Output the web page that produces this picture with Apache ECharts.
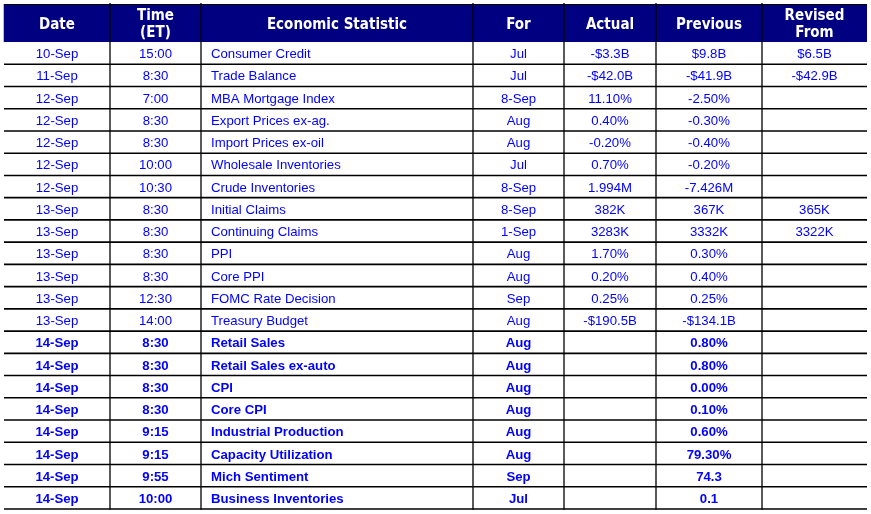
<!DOCTYPE html>
<html>
<head>
<meta charset="utf-8">
<script src="https://cdn.jsdelivr.net/npm/echarts@6/dist/echarts.min.js"></script>
<style>html,body{margin:0;padding:0;background:#fff;}#c{width:871px;height:514px;}</style>
</head>
<body>
<div id="c"></div>
<script>
// ---- data ----
const headers = ['Date', 'Time\n(ET)', 'Economic Statistic', 'For', 'Actual', 'Previous', 'Revised\nFrom'];
const dates = ['10-Sep','11-Sep','12-Sep','12-Sep','12-Sep','12-Sep','12-Sep','13-Sep','13-Sep','13-Sep','13-Sep','13-Sep','13-Sep','14-Sep','14-Sep','14-Sep','14-Sep','14-Sep','14-Sep','14-Sep','14-Sep'];
const times = ['15:00','8:30','7:00','8:30','8:30','10:00','10:30','8:30','8:30','8:30','8:30','12:30','14:00','8:30','8:30','8:30','8:30','9:15','9:15','9:55','10:00'];
const stats = ['Consumer Credit','Trade Balance','MBA Mortgage Index','Export Prices ex-ag.','Import Prices ex-oil','Wholesale Inventories','Crude Inventories','Initial Claims','Continuing Claims','PPI','Core PPI','FOMC Rate Decision','Treasury Budget','Retail Sales','Retail Sales ex-auto','CPI','Core CPI','Industrial Production','Capacity Utilization','Mich Sentiment','Business Inventories'];
const periods = ['Jul','Jul','8-Sep','Aug','Aug','Jul','8-Sep','8-Sep','1-Sep','Aug','Aug','Sep','Aug','Aug','Aug','Aug','Aug','Aug','Aug','Sep','Jul'];
const actuals = ['-$3.3B','-$42.0B','11.10%','0.40%','-0.20%','0.70%','1.994M','382K','3283K','1.70%','0.20%','0.25%','-$190.5B','','','','','','','',''];
const previous = ['$9.8B','-$41.9B','-2.50%','-0.30%','-0.40%','-0.20%','-7.426M','367K','3332K','0.30%','0.40%','0.25%','-$134.1B','0.80%','0.80%','0.00%','0.10%','0.60%','79.30%','74.3','0.1'];
const revised = ['$6.5B','-$42.9B','','','','','','365K','3322K','','','','','','','','','','','',''];

// ---- layout / style ----
const columns = [dates, times, stats, periods, actuals, previous, revised];
const colEdges = [4, 110, 201, 473, 564, 656, 762, 867];
const colAlign = ['center','center','left','center','center','center','center'];
const nRows = dates.length;
const TEXT_COLOR = '#0000ff';
const NAVY = '#000080';

const cells = [];
columns.forEach((col, c) => col.forEach((t, r) => {
  cells.push({ value: [c, r], text: t, bold: actuals[r] === '' });
}));
const headerCells = headers.map((h, c) => ({ value: [c, 0], text: h }));

function cellRender(params, api) {
  const cell = cells[params.dataIndex];
  const c = cell.value[0], r = cell.value[1];
  const p0 = api.coord([colEdges[c], r]);
  const p1 = api.coord([colEdges[c + 1], r + 1]);
  const left = colAlign[c] === 'left';
  return {
    type: 'text',
    style: {
      x: left ? p0[0] + 10 : (p0[0] + p1[0]) / 2,
      y: (p0[1] + p1[1]) / 2 + 1.5,
      text: cell.text,
      fill: TEXT_COLOR,
      font: (cell.bold ? 'bold ' : '') + '13.2px "Liberation Sans", Arial, sans-serif',
      align: left ? 'left' : 'center',
      verticalAlign: 'middle'
    }
  };
}

function bodyLines(params, api) {
  if (params.dataIndex !== 0) return;
  const children = [];
  for (let r = 1; r <= nRows; r++) {
    const a = api.coord([colEdges[0], r]);
    const b = api.coord([colEdges[colEdges.length - 1], r]);
    children.push({ type: 'line', shape: { x1: a[0], y1: a[1], x2: b[0], y2: b[1] }, style: { stroke: '#000', lineWidth: 1.6 } });
  }
  for (let c = 1; c < colEdges.length - 1; c++) {
    const a = api.coord([colEdges[c], 0]);
    const b = api.coord([colEdges[c], nRows]);
    children.push({ type: 'line', shape: { x1: a[0], y1: a[1], x2: b[0], y2: b[1] + 0.8 }, style: { stroke: '#000', lineWidth: 1.3 } });
  }
  return { type: 'group', children };
}

function headerRender(params, api) {
  const h = headerCells[params.dataIndex];
  const c = h.value[0];
  const p0 = api.coord([colEdges[c], 0]);
  const p1 = api.coord([colEdges[c + 1], 1]);
  const children = [
    { type: 'rect', shape: { x: p0[0], y: p0[1], width: p1[0] - p0[0], height: p1[1] - p0[1] }, style: { fill: NAVY } },
    { type: 'text', style: {
      x: (p0[0] + p1[0]) / 2, y: (p0[1] + p1[1]) / 2 + 1.8, text: h.text, fill: '#fff',
      font: 'bold 15px "DejaVu Sans Condensed", "DejaVu Sans", Verdana, sans-serif', lineHeight: 17,
      align: 'center', verticalAlign: 'middle' } },
    { type: 'line', shape: { x1: p0[0], y1: p0[1] + 0.5, x2: p1[0], y2: p0[1] + 0.5 }, style: { stroke: '#000', lineWidth: 1 } }
  ];
  if (c > 0) children.push({ type: 'line', shape: { x1: p0[0], y1: p0[1] - 1, x2: p0[0], y2: p1[1] }, style: { stroke: '#000', lineWidth: 1.3 } });
  else children.push({ type: 'line', shape: { x1: p0[0] - 0.5, y1: p0[1], x2: p0[0] - 0.5, y2: p1[1] }, style: { stroke: '#b8b8d8', lineWidth: 1 } });
  return { type: 'group', children };
}

const chart = echarts.init(document.getElementById('c'), null, { renderer: 'canvas' });
chart.setOption({
  animation: false,
  backgroundColor: '#fff',
  grid: [
    { left: 4, right: 4, top: 4, height: 38 },
    { left: 4, right: 4, top: 42, height: 467 }
  ],
  xAxis: [
    { gridIndex: 0, type: 'value', min: colEdges[0], max: colEdges[colEdges.length - 1], show: false },
    { gridIndex: 1, type: 'value', min: colEdges[0], max: colEdges[colEdges.length - 1], show: false }
  ],
  yAxis: [
    { gridIndex: 0, type: 'value', min: 0, max: 1, inverse: true, show: false },
    { gridIndex: 1, type: 'value', min: 0, max: nRows, inverse: true, show: false }
  ],
  series: [
    { type: 'custom', xAxisIndex: 0, yAxisIndex: 0, data: headerCells.map(h => h.value), renderItem: headerRender, silent: true },
    { type: 'custom', xAxisIndex: 1, yAxisIndex: 1, data: [[0, 0]], renderItem: bodyLines, silent: true },
    { type: 'custom', xAxisIndex: 1, yAxisIndex: 1, data: cells.map(c => c.value), renderItem: cellRender, silent: true }
  ]
});
</script>
</body>
</html>
